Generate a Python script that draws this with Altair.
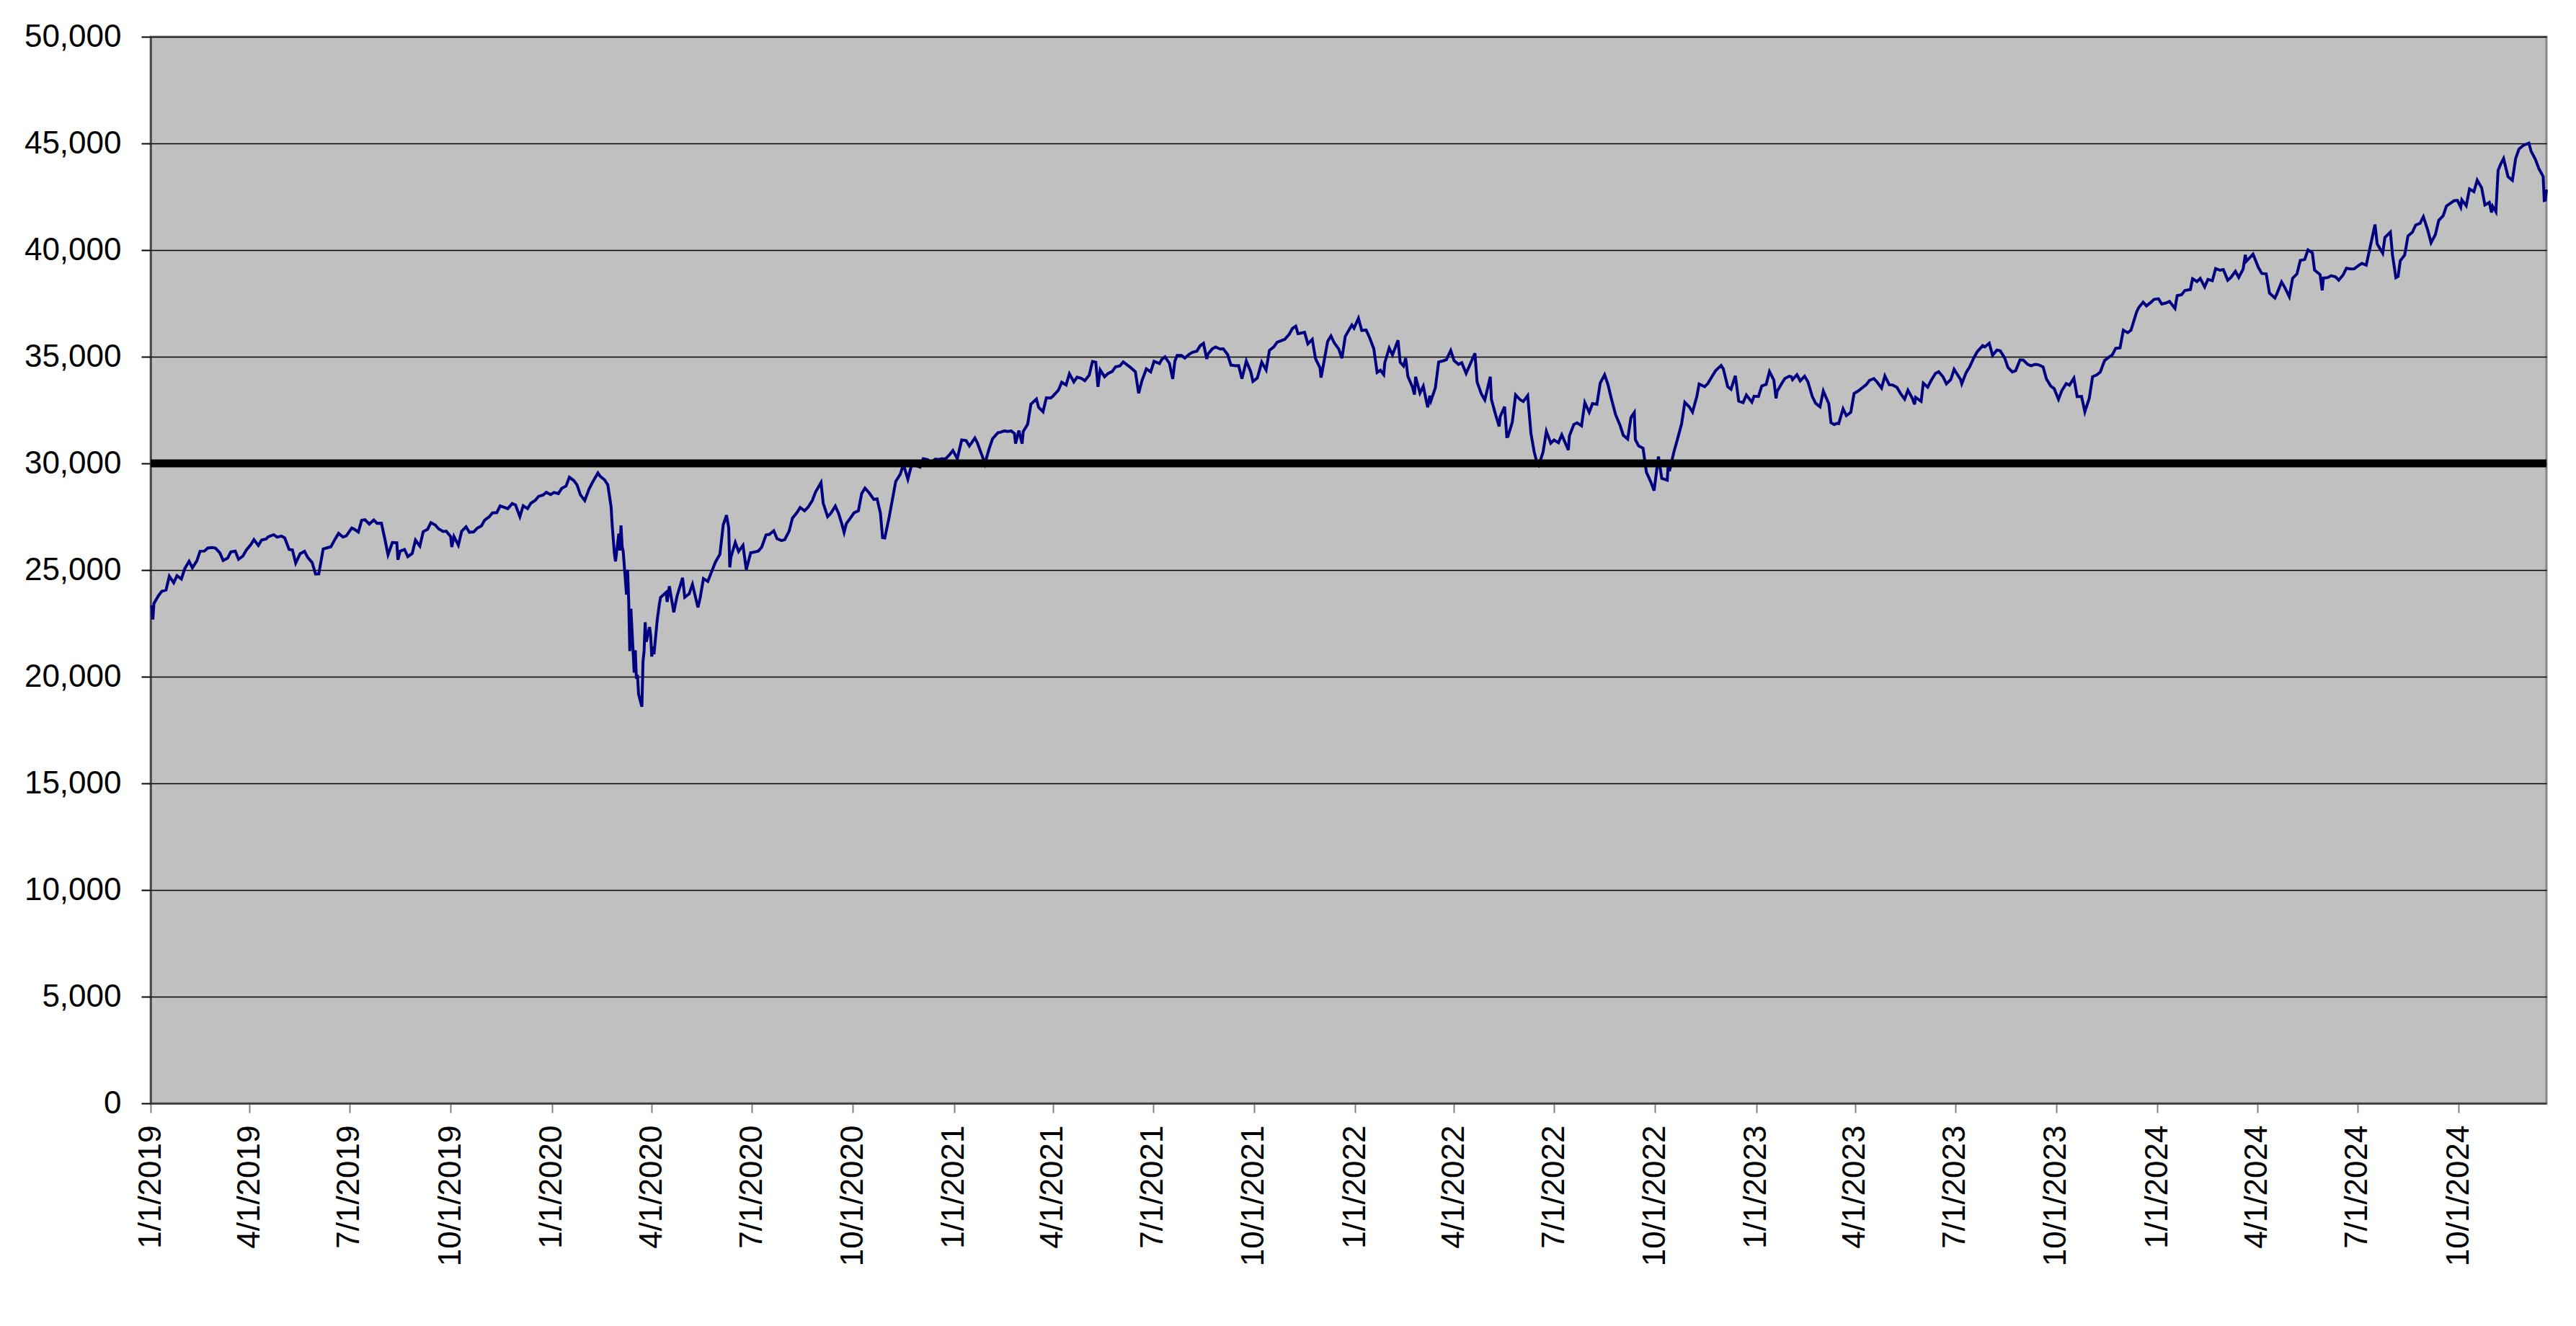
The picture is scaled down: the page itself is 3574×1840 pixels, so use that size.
import altair as alt
import pandas as pd

# ---------------- data ----------------
d2019 = ["01-02","01-03","01-04","01-08","01-11","01-15","01-18","01-22","01-25","01-29",
         "02-01","02-05","02-08","02-12","02-15","02-19","02-22","02-26","03-01","03-05",
         "03-08","03-12","03-15","03-19","03-22","03-26","03-29","04-02","04-05","04-09",
         "04-12","04-16","04-18","04-23","04-26","04-30","05-03","05-07","05-10","05-13",
         "05-17","05-21","05-24","05-28","05-31","06-03","06-07","06-11","06-14","06-18",
         "06-21","06-25","06-28","07-03","07-05","07-09","07-12","07-15","07-19","07-23",
         "07-26","07-30","08-02","08-05","08-09","08-13","08-14","08-16","08-20","08-23",
         "08-27","08-30","09-03","09-06","09-10","09-13","09-17","09-20","09-24","09-27",
         "10-01","10-02","10-04","10-08","10-11","10-15","10-18","10-22","10-25","10-29",
         "11-01","11-05","11-08","11-12","11-15","11-19","11-22","11-26","11-29","12-03",
         "12-06","12-10","12-13","12-17","12-20","12-24","12-27","12-31"]
v2019 = [23346,22686,23433,23787,23996,24066,24706,24404,24737,24580,
         25064,25411,25106,25426,25883,25891,26031,26057,26026,25806,
         25450,25554,25849,25887,25502,25658,25929,26180,26425,26151,
         26412,26453,26559,26656,26543,26593,26505,25965,25942,25324,
         25764,25877,25586,25348,24815,24820,25984,26048,26090,26465,
         26719,26548,26600,26966,26922,26784,27332,27359,27154,27349,
         27192,27198,26485,25718,26287,26280,25479,25886,25963,25629,
         25778,26403,26119,26797,26909,27220,27111,26935,26808,26820,
         26573,26079,26573,26165,26817,27025,26770,26788,26958,27071,
         27347,27492,27681,27691,28005,27934,27876,28121,28051,27503,
         28015,27881,28135,28267,28455,28516,28645,28538]

d2020 = ["01-03","01-07","01-10","01-14","01-17","01-21","01-24","01-27","01-31","02-04",
         "02-07","02-12","02-14","02-18","02-21","02-24","02-25","02-27","02-28","03-02",
         "03-03","03-04","03-05","03-06","03-09","03-10","03-11","03-12","03-13","03-16",
         "03-17","03-18","03-19","03-20","03-23","03-24","03-25","03-26","03-27","03-30",
         "03-31","04-01","04-02","04-03","04-06","04-08","04-09","04-14","04-15","04-17",
         "04-21","04-24","04-29","05-01","05-05","05-08","05-13","05-15","05-18","05-22",
         "05-26","05-29","06-02","06-05","06-08","06-10","06-11","06-12","06-16","06-19",
         "06-23","06-26","06-30","07-02","07-07","07-10","07-14","07-17","07-21","07-24",
         "07-28","07-31","08-04","08-07","08-11","08-14","08-18","08-21","08-25","08-28",
         "09-02","09-04","09-08","09-11","09-15","09-18","09-21","09-23","09-25","09-29",
         "10-02","10-06","10-09","10-12","10-16","10-20","10-23","10-26","10-28","10-30",
         "11-03","11-06","11-09","11-13","11-16","11-20","11-24","11-27","12-01","12-04",
         "12-08","12-11","12-15","12-18","12-21","12-24","12-28","12-31"]
v2020 = [28635,28584,28824,28940,29348,29196,28990,28536,28256,28808,
         29103,29551,29398,29232,28992,27961,27081,25767,25409,26703,
         25917,27091,26121,25865,23851,25018,23553,21200,23186,20189,
         21237,19899,20087,19174,18592,20704,21201,22552,21637,22327,
         21917,20944,21413,21053,22680,23434,23719,23950,23504,24242,
         23019,23775,24634,23724,23883,24331,23248,23685,24597,24465,
         24995,25383,25742,27111,27572,26990,25128,25606,26290,25871,
         26156,25016,25813,25827,25890,26075,26643,26672,26840,26470,
         26379,26428,26828,27433,27687,27931,27778,27930,28249,28654,
         29100,28133,27500,27666,27996,27657,27148,26763,27174,27452,
         27683,27773,28587,28837,28606,28309,28336,27685,26520,26502,
         27480,28323,29158,29480,29950,29263,30046,29910,29824,30218,
         30174,30046,30200,30179,30216,30200,30404,30606]

d2021 = ["01-04","01-08","01-12","01-15","01-20","01-22","01-27","01-29","02-02","02-05",
         "02-10","02-12","02-16","02-19","02-22","02-25","02-26","03-01","03-04","03-05",
         "03-09","03-12","03-17","03-19","03-23","03-26","03-30","04-01","04-06","04-09",
         "04-13","04-16","04-20","04-23","04-27","04-30","05-04","05-07","05-10","05-12",
         "05-14","05-18","05-21","05-25","05-28","06-01","06-04","06-08","06-11","06-15",
         "06-18","06-21","06-25","06-29","07-02","07-07","07-09","07-12","07-16","07-19",
         "07-21","07-23","07-27","07-30","08-03","08-06","08-10","08-13","08-16","08-19",
         "08-20","08-24","08-27","08-31","09-03","09-07","09-10","09-14","09-17","09-20",
         "09-24","09-28","09-30","10-04","10-08","10-12","10-15","10-19","10-22","10-26",
         "10-29","11-02","11-05","11-08","11-10","11-12","11-16","11-19","11-23","11-26",
         "11-30","12-01","12-03","12-07","12-10","12-13","12-17","12-20","12-23","12-29",
         "12-31"]
v2021 = [30224,31098,31068,30814,31188,30997,30303,29983,30688,31148,
         31438,31458,31523,31494,31522,31402,30932,31536,30924,31496,
         31833,32779,33015,32628,32423,33073,33067,33153,33430,33801,
         33677,34201,33821,34043,33985,33875,34133,34778,34743,33587,
         34382,34061,34208,34313,34529,34575,34756,34600,34480,34299,
         33290,33877,34433,34292,34786,34681,34870,34996,34687,33962,
         34798,35062,35058,34935,35117,35209,35265,35515,35625,34894,
         35120,35367,35456,35361,35369,35100,34608,34578,34584,33970,
         34798,34300,33844,34002,34746,34378,35295,35458,35677,35757,
         35820,36053,36328,36432,36080,36100,36143,35602,35814,34899,
         34484,34022,34580,35720,35971,35650,35365,34932,35951,36488,
         36338]

d2022 = ["01-04","01-07","01-11","01-14","01-18","01-21","01-24","01-27","01-28","02-01",
         "02-04","02-09","02-11","02-14","02-16","02-18","02-22","02-24","02-25","03-01",
         "03-04","03-08","03-10","03-11","03-15","03-18","03-22","03-25","03-29","04-01",
         "04-05","04-08","04-12","04-14","04-20","04-22","04-26","04-29","05-04","05-05",
         "05-09","05-12","05-13","05-17","05-19","05-20","05-24","05-27","05-31","06-03",
         "06-07","06-10","06-13","06-16","06-17","06-21","06-24","06-28","07-01","07-05",
         "07-08","07-14","07-15","07-19","07-22","07-26","07-29","08-02","08-05","08-09",
         "08-12","08-16","08-19","08-22","08-26","08-30","09-02","09-06","09-09","09-12",
         "09-13","09-16","09-20","09-23","09-27","09-30","10-04","10-07","10-12","10-13",
         "10-14","10-18","10-21","10-25","10-28","11-01","11-04","11-08","11-10","11-15",
         "11-18","11-22","11-25","11-30","12-02","12-06","12-09","12-13","12-16","12-20",
         "12-23","12-28","12-30"]
v2022 = [36800,36232,36252,35912,35369,34265,34365,34160,34725,35405,
         35089,35768,34738,34566,34934,34079,33596,33224,34059,33294,
         33615,32632,33174,32944,33544,34754,34807,34861,35294,34818,
         34641,34721,34220,34451,35160,33811,33240,32977,34061,32998,
         32246,31730,32197,32655,31253,31262,31929,33213,32990,32900,
         33180,31393,30517,29927,29889,30530,31501,30947,31097,30968,
         31338,30630,31288,31827,31899,31762,32845,32397,32803,32774,
         33761,34152,33706,33064,32283,31791,31318,31145,32152,32381,
         31105,30822,30706,29590,29135,28726,30317,29297,29211,30039,
         29635,30524,31083,31837,32862,32653,32403,33160,33716,33593,
         33746,34098,34347,34590,34430,33597,33477,34108,32920,32850,
         33204,32875,33147]

d2023 = ["01-03","01-06","01-10","01-13","01-17","01-19","01-20","01-24","01-27","01-31",
         "02-02","02-03","02-07","02-10","02-14","02-17","02-21","02-24","02-28","03-03",
         "03-08","03-10","03-13","03-15","03-17","03-21","03-24","03-28","03-31","04-04",
         "04-06","04-11","04-14","04-18","04-21","04-25","04-28","05-02","05-05","05-09",
         "05-12","05-16","05-19","05-23","05-25","05-26","05-31","06-02","06-06","06-09",
         "06-13","06-16","06-20","06-23","06-27","06-30","07-06","07-07","07-11","07-14",
         "07-18","07-21","07-26","07-28","08-01","08-04","08-08","08-11","08-15","08-18",
         "08-22","08-25","08-29","09-01","09-05","09-08","09-12","09-15","09-19","09-22",
         "09-26","09-29","10-03","10-06","10-10","10-13","10-17","10-20","10-24","10-27",
         "10-31","11-03","11-07","11-10","11-14","11-17","11-21","11-24","11-28","12-01",
         "12-05","12-08","12-13","12-15","12-19","12-22","12-26","12-29"]
v2023 = [33136,33631,33704,34303,33911,33045,33375,33734,33978,34086,
         34054,33926,34157,33869,34089,33827,33130,32817,32657,33391,
         32798,31910,31819,31875,31862,32561,32238,32394,33274,33403,
         33485,33685,33887,33977,33809,33531,34098,33685,33674,33562,
         33301,33012,33427,33056,32765,33093,32908,33763,33573,33877,
         34212,34300,34054,33727,33927,34408,33922,33735,34261,34509,
         34952,35228,35520,35459,35631,35066,35314,35281,34946,34500,
         34289,34347,34853,34838,34642,34577,34646,34618,34518,33964,
         33619,33508,33002,33408,33739,33670,33998,33127,33141,32418,
         33053,34061,34153,34283,34828,34947,35088,35390,35417,36246,
         36125,36248,37090,37306,37558,37385,37545,37690]

d2024 = ["01-02","01-05","01-09","01-12","01-17","01-19","01-23","01-26","01-31","02-02",
         "02-06","02-09","02-13","02-16","02-20","02-23","02-27","03-01","03-05","03-08",
         "03-12","03-15","03-19","03-21","03-22","03-28","04-02","04-05","04-09","04-12",
         "04-16","04-17","04-19","04-23","04-26","04-30","05-03","05-07","05-10","05-14",
         "05-17","05-21","05-23","05-28","05-30","05-31","06-04","06-07","06-11","06-14",
         "06-18","06-21","06-25","06-28","07-03","07-05","07-09","07-12","07-16","07-17",
         "07-19","07-24","07-26","07-31","08-02","08-05","08-07","08-09","08-13","08-16",
         "08-20","08-23","08-27","08-30","09-03","09-06","09-10","09-13","09-17","09-20",
         "09-24","09-27","09-30","10-03","10-04","10-08","10-11","10-15","10-18","10-22",
         "10-25","10-29","10-31","11-01","11-04","11-06","11-08","11-11","11-15","11-19",
         "11-22","11-25","11-29","12-04","12-06","12-10","12-13","12-17","12-18","12-19",
         "12-20"]
v2024 = [37715,37466,37525,37593,37267,37863,37905,38109,38150,38654,
         38521,38671,38273,38628,38564,39131,39053,39087,38585,38723,
         39005,38715,39111,39781,39476,39807,39170,38904,38884,37983,
         37799,37753,37986,38503,38240,37816,38676,38884,39513,39558,
         40004,39872,39065,38853,38112,38686,38711,38799,38748,38589,
         38835,39150,39112,39119,39308,39376,39292,40001,40954,41198,
         40288,39854,40589,40843,39737,38703,38763,39498,39766,40660,
         40835,41175,41250,41563,40937,40345,40737,41394,41606,42063,
         42208,42313,42330,42011,42353,42080,42864,42740,43276,42925,
         42114,42233,41763,42052,41794,43729,43989,44293,43445,43269,
         44297,44736,44911,45014,44643,44248,43828,43450,42326,42342,
         42840]

reference_level = [30000]
y_ticks = [0, 5000, 10000, 15000, 20000, 25000, 30000, 35000, 40000, 45000, 50000]
x_tick_years = [2019, 2020, 2021, 2022, 2023, 2024]
x_tick_months = [1, 4, 7, 10]

# ---------------- build table ----------------
dates, values = [], []
for year, ds, vs in [(2019, d2019, v2019), (2020, d2020, v2020), (2021, d2021, v2021),
                     (2022, d2022, v2022), (2023, d2023, v2023), (2024, d2024, v2024)]:
    dates += [f"{year}-{d}" for d in ds]
    values += vs
df = pd.DataFrame({"date": pd.to_datetime(dates), "value": values})
ref_df = pd.DataFrame({"value": reference_level})

x_tick_values = [alt.DateTime(year=y, month=m, date=1) for y in x_tick_years for m in x_tick_months]

FONT = "Liberation Sans"

x_enc = alt.X(
    "date:T",
    title=None,
    scale=alt.Scale(domain=[alt.DateTime(year=2019, month=1, date=1),
                            alt.DateTime(year=2024, month=12, date=20)]),
    axis=alt.Axis(
        values=x_tick_values,
        format="%-m/%-d/%Y",
        labelAngle=270,
        labelAlign="right",
        labelBaseline="middle",
        labelPadding=17,
        labelFont=FONT,
        labelFontSize=44,
        labelColor="black",
        labelLimit=0,
        labelOverlap=False,
        labelFlush=False,
        labelBound=False,
        tickSize=13,
        tickColor="#808080",
        tickWidth=2,
        domainColor="#333333",
        domainWidth=2,
        grid=False,
    ),
)

y_axis = alt.Axis(
    values=y_ticks,
    format=",d",
    labelPadding=28,
    labelFont=FONT,
    labelFontSize=44,
    labelColor="black",
    labelLimit=0,
    labelOverlap=False,
    labelFlush=False,
    tickSize=13,
    tickColor="black",
    tickWidth=2,
    domainColor="#333333",
    domainWidth=2,
    grid=True,
    gridColor="black",
    gridWidth=1.3,
)
y_scale = alt.Scale(domain=[0, 50000], nice=False, zero=True)

line = alt.Chart(df).mark_line(color="#000080", strokeWidth=4).encode(
    x=x_enc,
    y=alt.Y("value:Q", title=None, scale=y_scale, axis=y_axis),
)

rule = alt.Chart(ref_df).mark_rule(color="black", strokeWidth=11).encode(
    y=alt.Y("value:Q", title=None, scale=y_scale, axis=y_axis)
)

chart = (
    alt.layer(line, rule)
    .properties(
        width=3324,
        height=1480,
        autosize=alt.AutoSizeParams(type="none"),
        padding={"left": 201, "top": 43, "right": 30, "bottom": 280},
        background="white",
    )
    .configure_view(fill="#C0C0C0", stroke="#888888", strokeWidth=3)
)

chart.save("out.html", embed_options={"renderer": "svg", "actions": False})
